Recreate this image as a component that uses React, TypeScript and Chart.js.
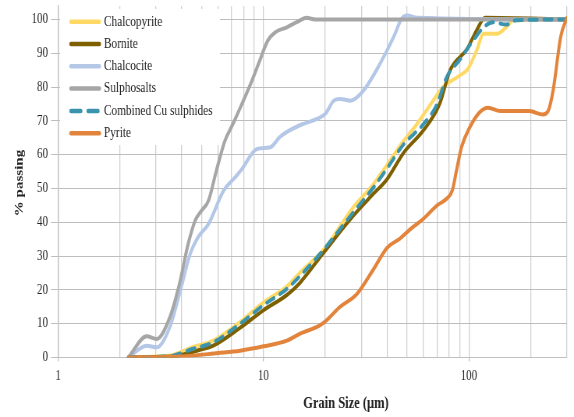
import React, { useEffect, useRef } from 'react';
import { Chart, registerables } from 'chart.js';

Chart.register(...registerables);

// ---- data (grain size in µm, % passing) ----
const chalcopyriteX = [2.2, 3, 3.6, 4.5, 5.7, 7.7, 10, 13, 15, 20, 27, 34, 40, 48, 55, 62, 75, 90, 99, 109, 118, 137, 152, 165, 300];
const chalcopyriteY = [0, 0.3, 0.7, 3, 5, 10.5, 16.3, 21, 25, 32.5, 44, 51, 57, 64, 68.5, 73, 80, 83.4, 85.4, 90.8, 95.8, 95.8, 97.7, 99.8, 100];

const borniteX = [2.2, 3.6, 4.9, 5.7, 7.7, 10, 13, 15, 19.5, 27.4, 34, 40, 48, 60, 72, 81, 98, 109, 120, 300];
const borniteY = [0, 0.3, 2.3, 3.5, 8.8, 14, 18.5, 22, 30.8, 42, 48.2, 52.8, 60.5, 67.2, 75, 85, 91.3, 96.8, 100.5, 100];

const chalcociteX = [2.2, 2.7, 3.02, 3.5, 3.9, 4.4, 4.8, 5.4, 6.4, 7.2, 7.8, 9.3, 10.8, 12, 13.4, 15.6, 18.2, 20, 22, 23.6, 26.5, 30.7, 37, 43, 47, 50, 56, 300];
const chalcociteY = [0, 3.5, 3, 9, 18.8, 30.7, 35.6, 39.5, 49.4, 53, 55.5, 61.7, 62.2, 65.2, 67.2, 69.1, 70.6, 72.1, 76, 76.5, 76, 79, 87, 94.8, 100.2, 101.2, 100.5, 100];

const sulphosaltsX = [2.2, 2.7, 3.02, 3.5, 3.9, 4.3, 4.65, 5, 5.4, 5.9, 6.5, 7.1, 7.8, 8.8, 9.6, 10.5, 11.4, 13, 14.5, 16.2, 18, 300];
const sulphosaltsY = [0, 6.3, 5.5, 11.9, 21.8, 33.6, 40.5, 43.5, 46.4, 55.3, 64.2, 69.1, 74.6, 82, 87.9, 93.8, 96.2, 97.7, 99.2, 100.5, 100, 100];

const combinedX = [2.2, 3, 3.6, 4.5, 5.7, 7.7, 10, 13, 15, 19.5, 27.4, 34, 40, 48, 60, 70, 78, 90, 105, 118, 131, 152, 170, 300];
const combinedY = [0, 0.2, 0.5, 2.5, 4.5, 10, 15.5, 20.3, 24, 31.7, 43, 50, 56, 63, 69, 75, 83, 88, 93.8, 97.7, 99.2, 98.5, 99.8, 100];

const pyriteX = [2.2, 4, 6, 7.7, 10, 13, 15, 18.8, 20.2, 23.5, 28.5, 34, 40, 46, 51.5, 60, 70, 78, 83, 87, 92, 101, 113, 124, 142, 197, 229, 243, 257, 280, 300];
const pyriteY = [0, 0.3, 1.3, 2, 3.3, 5, 7, 9.5, 10.9, 14.9, 18.8, 25.7, 32.5, 35.1, 37.8, 41, 45, 47, 49.4, 55.3, 62.2, 68.1, 72.6, 73.9, 72.9, 72.9, 71.9, 72.9, 79, 95, 100.5];

const seriesNames = ['Chalcopyrite', 'Bornite', 'Chalcocite', 'Sulphosalts', 'Combined Cu sulphides', 'Pyrite'];
const seriesColors = ['#FFD966', '#7F6000', '#B4C7E7', '#A6A6A6', '#3A94AD', '#E2843C'];
const seriesDashed = [false, false, false, false, true, false];
const seriesXs = [chalcopyriteX, borniteX, chalcociteX, sulphosaltsX, combinedX, pyriteX];
const seriesYs = [chalcopyriteY, borniteY, chalcociteY, sulphosaltsY, combinedY, pyriteY];

const xGridValues = [1, 2, 3, 4, 5, 6, 7, 8, 9, 10, 20, 30, 40, 50, 60, 70, 80, 90, 100, 200, 300];
const xLabelValues = [1, 10, 100];
const yTickValues = [0, 10, 20, 30, 40, 50, 60, 70, 80, 90, 100];

const xTitle = 'Grain Size (µm)';
const yTitle = '% passing';

const FONT = '"Liberation Serif", "Times New Roman", serif';
const TEXT = '#222222';

const overlayPlugin = {
  id: 'overlay',
  afterDatasetsDraw(chart: any) {
    const ctx = chart.ctx as CanvasRenderingContext2D;
    ctx.save();
    ctx.fillStyle = '#ffffff';
    ctx.fillRect(77, 9, 205, 136);
    seriesNames.forEach((name, i) => {
      const y = 21.7 + i * 22.3;
      ctx.strokeStyle = seriesColors[i];
      ctx.lineWidth = 4.5;
      ctx.lineCap = 'round';
      ctx.setLineDash(seriesDashed[i] ? [12.5, 9.5] : []);
      ctx.beginPath();
      ctx.moveTo(91, y);
      ctx.lineTo(seriesDashed[i] ? 126 : 127.3, y);
      ctx.stroke();
      ctx.setLineDash([]);
      ctx.fillStyle = TEXT;
      ctx.font = `14.5px ${FONT}`;
      ctx.textBaseline = 'middle';
      ctx.textAlign = 'left';
      ctx.fillText(name, 133.3, y);
    });
    ctx.restore();
  },
  afterDraw(chart: any) {
    const ctx = chart.ctx as CanvasRenderingContext2D;
    ctx.save();
    ctx.fillStyle = TEXT;
    ctx.font = `bold 16px ${FONT}`;
    ctx.textAlign = 'center';
    ctx.textBaseline = 'alphabetic';
    ctx.fillText(xTitle, 443.6, 408);
    ctx.translate(25.6, 183);
    ctx.rotate(-Math.PI / 2);
    ctx.font = `bold 15px ${FONT}`;
    ctx.textBaseline = 'middle';
    ctx.fillText(yTitle, 0, 0);
    ctx.restore();
  },
};

export default function App() {
  const ref = useRef<HTMLCanvasElement>(null);
  useEffect(() => {
    const datasets = seriesNames.map((name, i) => ({
      label: name,
      data: seriesXs[i].map((x, j) => ({ x, y: seriesYs[i][j] })),
      borderColor: seriesColors[i],
      backgroundColor: seriesColors[i],
      borderWidth: 4,
      borderDash: seriesDashed[i] ? [10, 9] : [],
      borderCapStyle: 'round' as const,
      borderJoinStyle: 'round' as const,
      pointRadius: 0,
      cubicInterpolationMode: 'monotone' as const,
      fill: false,
      order: seriesNames.length - 1 - i,
    }));
    const chart = new Chart(ref.current!, {
      type: 'line',
      data: { datasets },
      plugins: [overlayPlugin],
      options: {
        animation: false,
        responsive: false,
        maintainAspectRatio: false,
        devicePixelRatio: 1,
        layout: { padding: { left: 0, top: 6, right: 9.1, bottom: 0 } },
        plugins: { legend: { display: false }, tooltip: { enabled: false } },
        scales: {
          x: {
            type: 'logarithmic',
            min: 1,
            max: 300,
            afterBuildTicks: (s: any) => {
              s.ticks = xGridValues.map((v) => ({ value: v, major: xLabelValues.includes(v) }));
            },
            afterFit: (s: any) => {
              s.height = 59.5;
              s.paddingLeft = 0;
              s.paddingRight = 0;
            },
            ticks: {
              autoSkip: false,
              maxRotation: 0,
              padding: 6,
              color: TEXT,
              font: { family: FONT, size: 14 },
              callback: (v: any) => (xLabelValues.includes(Number(v)) ? String(v) : ''),
            },
            grid: {
              color: '#D0D0D0',
              lineWidth: 1.3,
              tickLength: 4,
              tickColor: (c: any) => (c.tick && xLabelValues.includes(c.tick.value) ? '#BFBFBF' : 'rgba(0,0,0,0)'),
            },
            border: { color: '#BFBFBF', width: 1 },
          },
          y: {
            type: 'linear',
            min: 0,
            max: 104,
            afterBuildTicks: (s: any) => {
              s.ticks = yTickValues.map((v) => ({ value: v }));
            },
            afterFit: (s: any) => {
              s.width = 74.4;
              s.paddingTop = 0;
              s.paddingBottom = 0;
            },
            ticks: { padding: 4, color: TEXT, font: { family: FONT, size: 14 } },
            grid: { color: '#BDBDBD', lineWidth: 1, tickLength: 9, tickColor: '#BDBDBD' },
            border: { color: '#BFBFBF', width: 1.3 },
          },
        },
      },
    });
    return () => chart.destroy();
  }, []);
  return (
    <div style={{ position: 'fixed', left: 0, top: 0, width: 574, height: 417, background: '#ffffff' }}>
      <canvas ref={ref} width={736} height={417} style={{ width: '574px', height: '417px', display: 'block' }} />
    </div>
  );
}
